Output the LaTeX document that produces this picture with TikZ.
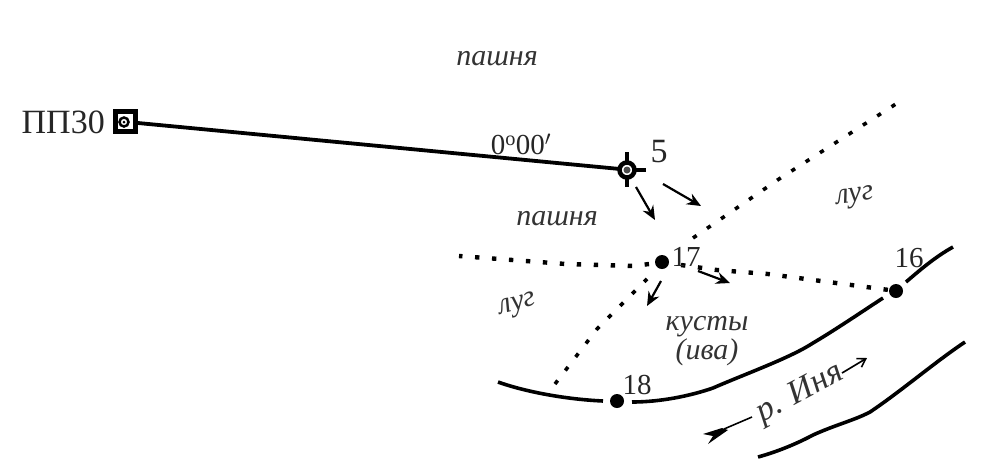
\documentclass[tikz,border=0pt]{standalone}
\usepackage{fontspec}
\setmainfont{Liberation Serif}
\usetikzlibrary{arrows.meta}

\tikzset{
    lbl/.style={inner sep=0pt, text=black!85, font=\fontsize{29}{31}\selectfont},
    terrain/.style={inner sep=0pt, font=\fontsize{30}{29}\selectfont\itshape, text=black!80},
    thickline/.style={line width=3.8pt, line join=round},
    bank/.style={line width=3.6pt, line join=round},
    dotted line/.style={line width=4.4pt, dash pattern=on 4.4pt off 12.6pt},
    dirarrow/.style={line width=2.2pt, -{Stealth[length=14pt,width=12pt]}},
    pointdot/.style={circle, fill=black, inner sep=0pt, minimum size=14pt}
}

\begin{document}
\begin{tikzpicture}[x=1pt,y=-1pt]
    \useasboundingbox (0,0) rectangle (995,475);

    % Dotted boundaries
    \draw[dotted line] (649,264) -- (634,266) -- (566,264) -- (459,256);
    \draw[dotted line] (681,265) -- (717,270) -- (768,274) -- (889,290);
    \draw[dotted line, line width=3.6pt] (693,238) -- (779,179) -- (899,102);
    \draw[dotted line, line width=3.6pt] (555,384) -- (597,329) -- (647,279);

    % Traverse line
    \draw[thickline] (138,123) -- (620,169);

    % Station PP30
    \draw[line width=5pt] (115.5,111.5) rectangle (135.5,131.5);
    \draw[line width=2.5pt] (124,122) circle (4.5);
    \fill (124,122) circle (1.5);
    \node[lbl, anchor=east, font=\fontsize{34}{36}\selectfont] (pp) at (105,122) {ПП30};

    % Point 5
    \draw[line width=4pt] (627,152) -- (627,187);
    \draw[line width=4pt] (627,170) -- (646,170);
    \draw[line width=4.5pt, fill=white] (627,170) circle (7.5);
    \fill[black!70] (627,170) circle (3.5);
    \node[lbl, font=\fontsize{34}{36}\selectfont] (five) at (659,152) {5};

    % Banks
    \draw[bank] (498,382) .. controls (520,390) and (560,399) .. (603,401);
    \draw[bank] (632,402) .. controls (660,402) and (690,396) .. (713,388)
        .. controls (745,374) and (790,358) .. (813,343) .. controls (835,330) and (860,313) .. (883,298);
    \draw[bank] (906,282) .. controls (920,270) and (935,257) .. (953,247);
    \draw[bank] (758,457) .. controls (780,451) and (800,442) .. (813,435)
        .. controls (835,425) and (855,420) .. (870,412) .. controls (900,392) and (935,362) .. (965,342);

    % Points
    \node[pointdot] (p17) at (662,262) {};
    \node[pointdot] (p18) at (617,401) {};
    \node[pointdot] (p16) at (896,291) {};
    \node[lbl] (n17) at (686,257) {17};
    \node[lbl] (n18) at (637,385) {18};
    \node[lbl] (n16) at (909,258) {16};

    % Direction arrows
    \draw[dirarrow] (663,184) -- (701,206);
    \draw[dirarrow] (636,187) -- (655,220);
    \draw[dirarrow] (698,271) -- (730,283);
    \draw[dirarrow] (661,281) -- (647,306);

    % Terrain labels
    \node[terrain] (t1) at (497,59) {пашня};
    \node[terrain] (t2) at (557,219) {пашня};
    \node[terrain, rotate=8] (t3) at (855,198) {луг};
    \node[terrain, rotate=15] (t4) at (518,306) {луг};
    \node[terrain, align=center] (t5) at (707,341) {кусты\\(ива)};
    \node[lbl] (angle) at (521,144) {0$^{\mathrm{o}}$00$'$};

    % River
    \node[terrain, font=\fontsize{34}{36}\selectfont\itshape, rotate=28] (river) at (800,394) {р. Иня};
    \draw[line width=1.6pt] (724,429) -- (752,417);
    \fill (703,434) -- (722,428) -- (728,430) -- (708,444) -- (713,436) -- cycle;
    \draw[line width=1.6pt, -{Straight Barb[length=8pt,width=10pt]}] (842,373) -- (867,358);
\end{tikzpicture}
\end{document}
